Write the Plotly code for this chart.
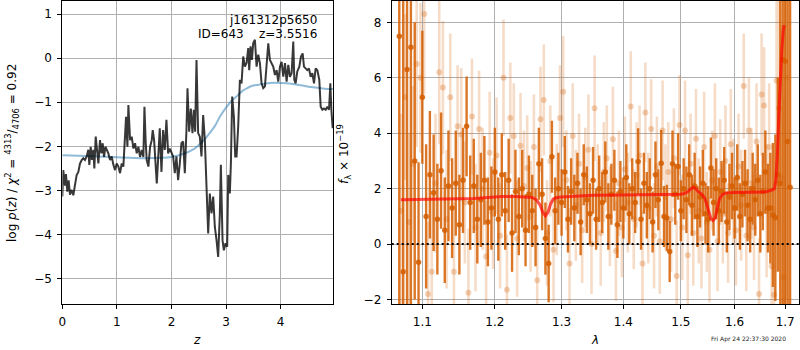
import math
import plotly.graph_objects as go

# ---------------- redshift PDF panel ----------------
pz_z = [0.000, 0.018, 0.049, 0.067, 0.092, 0.116, 0.141, 0.171, 0.202, 0.232,
        0.263, 0.294, 0.324, 0.355, 0.385, 0.416, 0.446, 0.477, 0.495, 0.520,
        0.544, 0.569, 0.587, 0.612, 0.636, 0.661, 0.691, 0.716, 0.740, 0.765,
        0.789, 0.813, 0.844, 0.875, 0.905, 0.936, 0.966, 0.997, 1.028, 1.058,
        1.089, 1.119, 1.150, 1.168, 1.193, 1.211, 1.242, 1.272, 1.303, 1.333,
        1.364, 1.394, 1.425, 1.456, 1.486, 1.505, 1.529, 1.547, 1.578, 1.609,
        1.639, 1.657, 1.682, 1.706, 1.731, 1.755, 1.786, 1.817, 1.847, 1.878,
        1.908, 1.939, 1.969, 2.031, 2.061, 2.092, 2.122, 2.153, 2.183, 2.214,
        2.245, 2.275, 2.294, 2.324, 2.355, 2.385, 2.410, 2.434, 2.459, 2.489,
        2.520, 2.550, 2.581, 2.612, 2.642, 2.673, 2.703, 2.734, 2.765, 2.795,
        2.826, 2.856, 2.887, 2.905, 2.936, 2.960, 2.991, 3.021, 3.040, 3.070,
        3.089, 3.113, 3.144, 3.168, 3.193, 3.223, 3.254, 3.284, 3.315, 3.346,
        3.376, 3.407, 3.425, 3.450, 3.474, 3.498, 3.529, 3.560, 3.590, 3.621,
        3.651, 3.682, 3.713, 3.743, 3.774, 3.804, 3.835, 3.865, 3.896, 3.927,
        3.957, 3.988, 4.018, 4.049, 4.080, 4.110, 4.141, 4.171, 4.202, 4.232,
        4.251, 4.275, 4.306, 4.343, 4.373, 4.404, 4.428, 4.459, 4.489, 4.520,
        4.550, 4.581, 4.612, 4.642, 4.673, 4.709, 4.734, 4.765, 4.795, 4.826,
        4.856, 4.887, 4.911, 4.930, 4.954]
pz_logp = [-3.14, -2.54, -2.89, -2.63, -3.03, -2.77, -3.10, -2.99, -3.11, -2.92,
           -2.65, -2.58, -2.39, -2.31, -2.27, -2.31, -2.23, -2.08, -2.42, -2.01,
           -2.31, -2.08, -2.50, -1.78, -2.16, -2.39, -1.86, -2.16, -1.93, -2.24,
           -2.01, -2.08, -2.16, -2.31, -2.23, -2.42, -2.54, -2.39, -2.46, -2.61,
           -2.39, -2.46, -1.70, -1.33, -2.01, -1.06, -1.86, -1.78, -2.05, -1.93,
           -2.16, -2.01, -2.24, -2.08, -2.24, -1.10, -1.93, -2.31, -2.46, -2.01,
           -1.86, -1.63, -1.86, -2.39, -2.84, -2.31, -1.59, -2.58, -1.63, -2.08,
           -1.40, -2.16, -2.05, -2.23, -2.61, -2.23, -2.77, -2.39, -1.93, -1.89,
           -2.61, -1.63, -0.68, -1.67, -1.14, -1.70, -1.17, -1.67, -0.04, -1.70,
           -1.78, -2.23, -1.29, -1.86, -3.11, -3.98, -3.07, -3.52, -3.14, -3.83,
           -4.13, -4.51, -3.52, -2.42, -4.13, -4.36, -4.20, -4.28, -2.65, -3.07,
           -2.39, -0.87, -1.33, -2.23, -2.23, -1.55, -0.49, -0.57, 0.04, -0.19,
           -0.11, 0.23, -0.27, 0.27, -0.04, 0.34, 0.42, -0.19, 0.08, -0.11,
           -0.57, -0.68, -0.64, -0.19, 0.34, -0.04, -0.11, -0.19, -0.38, -0.27,
           -0.53, -0.19, -0.08, -0.42, -0.11, -0.53, -0.15, -0.42, -0.34, 0.38,
           -0.49, -0.57, -0.30, -0.19, 0.04, 0.11, -0.19, -0.23, -0.27, -0.23,
           -0.42, -0.34, -0.57, -0.23, -0.27, -0.49, -1.10, -1.17, -1.14, -1.17,
           -1.10, -1.17, -0.57, -1.17, -1.59]

prior_z = [0.0, 0.5, 1.0, 1.5, 1.8, 2.0, 2.2, 2.4, 2.5, 2.6, 2.7, 2.8, 2.9, 3.0,
           3.1, 3.2, 3.3, 3.4, 3.5, 3.6, 3.8, 4.0, 4.2, 4.4, 4.6, 4.8, 4.96]
prior_logp = [-2.20, -2.22, -2.25, -2.27, -2.26, -2.24, -2.18, -2.07, -1.97, -1.85,
              -1.70, -1.53, -1.30, -1.12, -0.97, -0.86, -0.74, -0.67, -0.62, -0.60,
              -0.56, -0.56, -0.58, -0.62, -0.66, -0.69, -0.70]

# ---------------- spectrum panel ----------------
dark_wave = [1.070, 1.075, 1.080, 1.085, 1.090, 1.095, 1.100, 1.105, 1.110, 1.115,
             1.120, 1.125, 1.130, 1.135, 1.140, 1.145, 1.150, 1.155, 1.160, 1.165,
             1.170, 1.175, 1.180, 1.185, 1.190, 1.195, 1.200, 1.205, 1.210, 1.215,
             1.220, 1.225, 1.230, 1.235, 1.240, 1.245, 1.250, 1.255, 1.260, 1.265,
             1.270, 1.275, 1.280, 1.285, 1.290, 1.295, 1.300, 1.305, 1.310, 1.315,
             1.320, 1.325, 1.330, 1.335, 1.340, 1.345, 1.350, 1.355, 1.360, 1.365,
             1.370, 1.375, 1.380, 1.385, 1.390, 1.395, 1.400, 1.405, 1.410, 1.415,
             1.420, 1.425, 1.430, 1.435, 1.440, 1.445, 1.450, 1.455, 1.460, 1.465,
             1.470, 1.475, 1.480, 1.485, 1.490, 1.495, 1.500, 1.505, 1.510, 1.515,
             1.520, 1.525, 1.530, 1.535, 1.540, 1.545, 1.550, 1.555, 1.560, 1.565,
             1.570, 1.575, 1.580, 1.585, 1.590, 1.595, 1.600, 1.605, 1.610, 1.615,
             1.620, 1.625, 1.630, 1.635, 1.640, 1.645, 1.650, 1.655, 1.660, 1.665,
             1.670, 1.675, 1.680, 1.685, 1.690, 1.695, 1.700, 1.705, 1.710]
dark_flux = [7.5, -1.0, 6.3, 7.1, 3.0, -0.65, 5.3, 1.0, 2.5, 1.85,
             0.9, 2.65, 0.5, 2.1, 1.3, 2.2, 0.7, 2.3, 4.25, 1.5,
             2.1, 0.9, 1.6, 2.3, 0.8, 1.3, 2.6, 0.9, 2.5, 1.2,
             2.3, 0.4, 1.9, 1.0, 2.0, 0.5, 1.8, 1.2, 0.6, 2.9,
             1.8, 0.2, -0.7, 3.15, 1.2, 2.0, 1.5, 2.6, 0.9, 1.9,
             1.3, 2.2, 0.8, 2.5, 1.6, 1.1, 2.3, 0.9, 2.0, 1.5,
             2.6, 1.0, 1.8, 2.3, 0.7, 1.9, 1.3, 2.4, 1.1, 2.0,
             1.5, 2.98, 0.9, 2.2, 1.4, 2.0, 0.8, 2.5, 1.6, 2.92,
             1.0, 0.94, -0.27, 2.9, 1.8, 2.8, 1.2, 2.0, 1.6, 2.5,
             1.4, 2.1, 1.0, 1.7, 2.2, 1.1, 0.9, 2.75, 1.5, 2.0,
             1.2, 1.9, 2.3, 0.8, 1.7, 2.1, 1.3, 2.4, 1.0, 1.8,
             2.2, 1.4, 0.9, 2.0, 1.6, 2.3, 1.1, 1.9, 2.6, 1.3,
             1.3, 1.05, 0.95, 2.5, 2.2, 6.65, 6.6, 3.7, 2.05]
dark_err = [14, 14, 12, 11, 5.0, 3.6, 2.4, 2.6, 2.3, 2.1,
            2.0, 2.1, 1.9, 2.0, 1.8, 1.9, 1.8, 1.9, 1.8, 1.7,
            1.7, 1.6, 1.7, 1.6, 1.6, 1.5, 1.6, 1.5, 1.5, 1.4,
            1.5, 1.4, 1.5, 1.4, 1.4, 1.3, 1.4, 1.3, 1.4, 1.3,
            1.3, 1.3, 1.4, 1.3, 1.2, 1.3, 1.2, 1.3, 1.2, 1.2,
            1.2, 1.1, 1.2, 1.1, 1.2, 1.1, 1.2, 1.1, 1.2, 1.1,
            1.1, 1.2, 1.1, 1.1, 1.2, 1.1, 1.1, 1.2, 1.1, 1.1,
            1.1, 1.2, 1.1, 1.1, 1.2, 1.1, 1.1, 1.2, 1.1, 1.2,
            1.1, 1.2, 1.1, 1.2, 1.1, 1.2, 1.1, 1.1, 1.2, 1.1,
            1.1, 1.2, 1.1, 1.1, 1.2, 1.1, 1.2, 1.1, 1.2, 1.1,
            1.2, 1.1, 1.2, 1.1, 1.2, 1.2, 1.1, 1.2, 1.2, 1.2,
            1.2, 1.3, 1.2, 1.3, 1.3, 1.3, 1.4, 1.4, 1.5, 1.6,
            2.0, 2.6, 3.0, 3.5, 12, 14, 14, 14, 14]

light_wave = [1.0725, 1.0775, 1.0825, 1.0875, 1.0925, 1.0975, 1.1025, 1.1075, 1.1125, 1.1175,
              1.1225, 1.1275, 1.1325, 1.1375, 1.1425, 1.1475, 1.1525, 1.1575, 1.1625, 1.1675,
              1.1725, 1.1775, 1.1825, 1.1875, 1.1925, 1.1975, 1.2025, 1.2075, 1.2125, 1.2175,
              1.2225, 1.2275, 1.2325, 1.2375, 1.2425, 1.2475, 1.2525, 1.2575, 1.2625, 1.2675,
              1.2725, 1.2775, 1.2825, 1.2875, 1.2925, 1.2975, 1.3025, 1.3075, 1.3125, 1.3175,
              1.3225, 1.3275, 1.3325, 1.3375, 1.3425, 1.3475, 1.3525, 1.3575, 1.3625, 1.3675,
              1.3725, 1.3775, 1.3825, 1.3875, 1.3925, 1.3975, 1.4025, 1.4075, 1.4125, 1.4175,
              1.4225, 1.4275, 1.4325, 1.4375, 1.4425, 1.4475, 1.4525, 1.4575, 1.4625, 1.4675,
              1.4725, 1.4775, 1.4825, 1.4875, 1.4925, 1.4975, 1.5025, 1.5075, 1.5125, 1.5175,
              1.5225, 1.5275, 1.5325, 1.5375, 1.5425, 1.5475, 1.5525, 1.5575, 1.5625, 1.5675,
              1.5725, 1.5775, 1.5825, 1.5875, 1.5925, 1.5975, 1.6025, 1.6075, 1.6125, 1.6175,
              1.6225, 1.6275, 1.6325, 1.6375, 1.6425, 1.6475, 1.6525, 1.6575, 1.6625, 1.6675,
              1.6725, 1.6775, 1.6825, 1.6875, 1.6925, 1.6975, 1.7025]
light_flux = [1.2, 5.3, 0.8, 2.9, 6.5, 6.0, 8.3, -1.8, -1.0, 2.2,
              6.2, 5.65, 0.9, 5.3, -1.0, 4.25, 3.95, 1.5, -1.75, 4.6,
              0.6, 4.15, 2.0, -0.45, 3.3, 1.1, 3.2, 0.3, 6.0, -1.65,
              4.55, 3.9, 0.2, 3.55, 2.1, 2.75, 1.0, 3.5, -1.3, 4.5,
              5.2, 0.4, 3.0, -0.2, 1.6, 4.55, 5.5, 2.3, -0.7, 3.9,
              1.4, 2.9, 0.5, 2.4, 3.4, 0.0, 4.9, 1.8, 0.4, 2.6,
              3.1, 1.0, 3.78, -0.25, 2.2, 0.6, 2.7, 1.5, 4.96, 0.9,
              2.5, 3.2, -0.7, 4.75, 1.3, 4.15, 0.3, 2.8, 0.1, 4.1,
              1.7, 2.6, 0.9, 3.1, -1.15, 4.3, 0.6, 4.1, -0.4, 2.9,
              0.4, 3.8, 1.2, 0.2, 3.5, 0.8, -0.2, 2.3, 3.9, 0.1,
              2.6, 1.1, 3.0, 0.4, 3.6, 1.9, 0.5, 2.8, 1.4, 5.7,
              0.3, 4.1, 2.2, 0.6, 3.7, -1.8, 5.4, 5.0, 1.2, 3.5,
              -0.8, -1.83, 5.9, 4.9, 2.4, -1.2, 6.0]
light_err = [3.5, 3.0, 3.2, 2.8, 3.0, 2.7, 2.9, 2.6, 2.8, 2.5,
             2.6, 2.4, 2.5, 2.3, 2.5, 2.2, 2.4, 2.2, 2.3, 2.1,
             2.3, 2.1, 2.2, 2.0, 2.2, 2.0, 2.1, 1.9, 2.1, 2.0,
             2.0, 1.9, 2.1, 1.9, 2.0, 1.9, 2.0, 1.9, 2.0, 1.9,
             2.0, 1.9, 2.0, 1.9, 2.0, 1.9, 2.0, 1.8, 2.0, 1.9,
             2.0, 1.8, 1.9, 1.8, 2.0, 1.8, 1.9, 1.8, 1.9, 1.8,
             1.9, 1.8, 1.9, 1.8, 1.9, 1.8, 1.9, 1.8, 2.0, 1.8,
             1.9, 1.8, 1.9, 1.8, 2.0, 1.8, 1.9, 1.8, 1.9, 1.8,
             1.9, 1.8, 1.9, 1.8, 2.0, 1.8, 1.9, 1.8, 1.9, 1.8,
             1.9, 1.8, 1.9, 1.8, 2.0, 1.8, 1.9, 1.8, 1.9, 1.8,
             1.9, 1.8, 2.0, 1.8, 2.0, 1.9, 2.0, 1.9, 2.0, 1.9,
             2.0, 1.9, 2.0, 1.9, 2.1, 2.0, 2.2, 2.1, 2.4, 2.3,
             2.8, 3.2, 3.8, 4.5, 5.5, 6.5, 8.0]

model_wave = [1.072, 1.090, 1.110, 1.130, 1.150, 1.170, 1.190, 1.210, 1.230, 1.245,
              1.255, 1.262, 1.267, 1.271, 1.275, 1.279, 1.283, 1.287, 1.292, 1.300,
              1.350, 1.400, 1.450, 1.500, 1.507, 1.513, 1.518, 1.522, 1.527, 1.532,
              1.538, 1.544, 1.550, 1.555, 1.559, 1.563, 1.567, 1.571, 1.576, 1.582,
              1.600, 1.630, 1.660, 1.673, 1.678, 1.681, 1.684, 1.687, 1.690, 1.693,
              1.696, 1.698]
model_flux = [1.60, 1.61, 1.62, 1.63, 1.63, 1.65, 1.68, 1.72, 1.72, 1.71,
              1.68, 1.58, 1.40, 1.15, 1.02, 1.15, 1.45, 1.62, 1.68, 1.70,
              1.76, 1.77, 1.78, 1.80, 1.83, 1.90, 1.99, 2.05, 2.00, 1.88,
              1.80, 1.65, 1.25, 0.93, 0.85, 0.95, 1.30, 1.62, 1.78, 1.84,
              1.86, 1.87, 1.88, 1.95, 2.00, 2.30, 3.20, 4.60, 5.90, 7.00,
              7.70, 7.90]

obj_name = "j161312p5650"
obj_info = "ID=643    z=3.5516"
stamp = "Fri Apr 24 22:37:30 2020"

W, H = 800, 350
FONT = "DejaVu Sans"
G141 = "213,94,0"


def px(x):
    return x / W


def py(y):
    return 1 - y / H


fig = go.Figure()

# p(z) panel
fig.add_trace(go.Scatter(x=prior_z, y=prior_logp, mode="lines",
                         line=dict(color="rgba(31,119,180,0.5)", width=2, shape="spline"),
                         xaxis="x", yaxis="y", hoverinfo="skip"))
fig.add_trace(go.Scatter(x=pz_z, y=pz_logp, mode="lines",
                         line=dict(color="rgba(0,0,0,0.78)", width=2),
                         xaxis="x", yaxis="y", hoverinfo="skip"))

# spectrum panel
fig.add_trace(go.Scatter(x=light_wave, y=light_flux, mode="markers",
                         marker=dict(size=6, color=f"rgba({G141},0.28)", line=dict(width=0)),
                         error_y=dict(type="data", array=light_err, visible=True,
                                      color=f"rgba({G141},0.22)", thickness=2.6, width=0),
                         xaxis="x2", yaxis="y2", hoverinfo="skip"))
fig.add_trace(go.Scatter(x=dark_wave, y=dark_flux, mode="markers",
                         marker=dict(size=5.5, color=f"rgba({G141},0.88)", line=dict(width=0)),
                         error_y=dict(type="data", array=dark_err, visible=True,
                                      color=f"rgba({G141},0.85)", thickness=2.4, width=0),
                         xaxis="x2", yaxis="y2", hoverinfo="skip"))
fig.add_trace(go.Scatter(x=model_wave, y=model_flux, mode="lines",
                         line=dict(color="rgba(255,0,0,0.68)", width=3),
                         xaxis="x2", yaxis="y2", hoverinfo="skip"))

axis_common = dict(showgrid=True, gridcolor="#b0b0b0", gridwidth=1, zeroline=False,
                   showline=True, linecolor="black", linewidth=1, mirror=True,
                   ticks="outside", ticklen=4, tickcolor="black", tickwidth=1,
                   ticklabelstandoff=3,
                   tickfont=dict(family=FONT, size=12, color="black"))

ydom = [py(304), py(1)]
fig.update_layout(
    width=W, height=H, margin=dict(l=0, r=0, t=0, b=0),
    template="none", paper_bgcolor="white", plot_bgcolor="white",
    showlegend=False, font=dict(family=FONT, size=12, color="black"),
    xaxis=dict(domain=[px(62.3), px(333)], range=[0, 4.96], anchor="y",
               tickvals=[0, 1, 2, 3, 4], **axis_common),
    yaxis=dict(domain=ydom, range=[-5.58, 1.30], anchor="x",
               tickvals=[-5, -4, -3, -2, -1, 0, 1], **axis_common),
    xaxis2=dict(domain=[px(391.7), px(799.3)], type="log",
                range=[math.log10(1.0603), math.log10(1.729)], anchor="y2",
                tickvals=[1.1, 1.2, 1.3, 1.4, 1.5, 1.6, 1.7],
                ticktext=["1.1", "1.2", "1.3", "1.4", "1.5", "1.6", "1.7"], **axis_common),
    yaxis2=dict(domain=ydom, range=[-2.16, 8.77], anchor="x2",
                tickvals=[-2, 0, 2, 4, 6, 8], **axis_common),
)

# zero level in the spectrum panel
fig.add_shape(type="line", xref="x2 domain", x0=0, x1=1, yref="y2", y0=0, y1=0,
              line=dict(color="black", width=2, dash="2px,3px"), layer="above")


def label(x, y, text, size=12, angle=0, xanchor="center", color="black"):
    fig.add_annotation(x=px(x), y=py(y), xref="paper", yref="paper", text=text,
                       showarrow=False, textangle=angle, xanchor=xanchor, yanchor="middle",
                       font=dict(family=FONT, size=size, color=color))


label(319, 20, obj_name, xanchor="right")
label(319, 34, obj_info, xanchor="right")
label(197, 340, "<i>z</i>")
label(595, 340, "<i>λ</i>")
label(12, 153, "log <i>p</i>(<i>z</i>) / <i>χ</i><sup>2</sup> = "
               "<sup>4313</sup>/<sub>4706</sub> = 0.92", angle=-90)
label(344, 154, "<i>f</i><sub>λ</sub> × 10<sup>−19</sup>", angle=-90)
label(788, 339, stamp, size=6, xanchor="right", color="#222222")

fig.write_html("out.html")
